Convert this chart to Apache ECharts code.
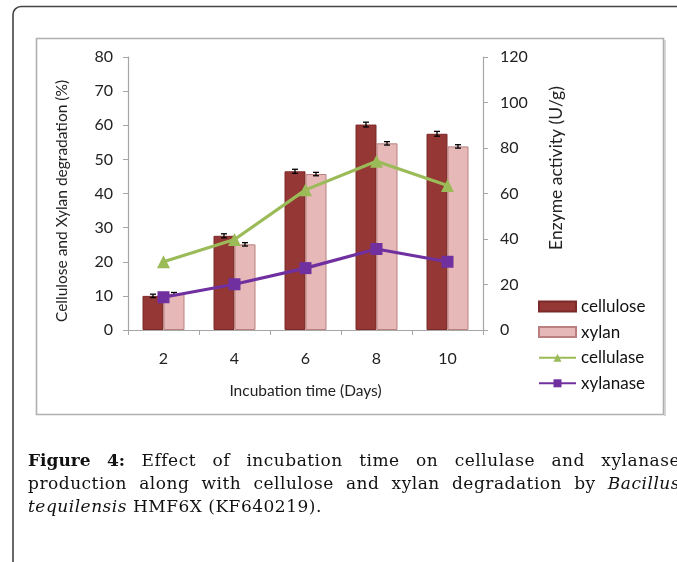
<!DOCTYPE html>
<html>
<head>
<meta charset="utf-8">
<script src="https://cdn.jsdelivr.net/npm/echarts@6/dist/echarts.min.js"></script>
<style>
  html, body { margin: 0; padding: 0; background: #fff; overflow: hidden; }
  #wrap { position: relative; width: 677px; height: 562px; overflow: hidden; }
  #chart { position: absolute; left: 0; top: 0; width: 677px; height: 562px; }
  .cap { position: absolute; left: 28px; width: 652px; font-family: "DejaVu Serif", serif;
         font-size: 17px; letter-spacing: 0.5px; color: #111; line-height: 23px; white-space: nowrap; }
  .just { text-align: justify; text-align-last: justify; white-space: normal; }
  .cap b { font-weight: bold; letter-spacing: 0; }
</style>
</head>
<body>
<div id="wrap">
  <div id="chart"></div>
  <div class="cap just" style="top:449px"><b>Figure 4:</b> Effect of incubation time on cellulase and xylanase</div>
  <div class="cap just" style="top:472px">production along with cellulose and xylan degradation by <i>Bacillus</i></div>
  <div class="cap" style="top:495px"><i>tequilensis</i> HMF6X (KF640219).</div>
</div>
<script>
  // 数据
  const days = ['2', '4', '6', '8', '10'];
  const celluloseDeg = [10.0, 27.6, 46.5, 60.2, 57.5];
  const celluloseErr = [0.5, 0.6, 0.6, 0.7, 0.7];
  const xylanDeg = [10.6, 25.1, 45.7, 54.7, 53.8];
  const xylanErr = [0.4, 0.5, 0.5, 0.5, 0.5];
  const cellulaseAct = [30.0, 39.8, 61.6, 74.2, 63.5];
  const xylanaseAct = [14.4, 20.1, 27.2, 35.6, 30.0];

  const BAR_W = 21;
  const font = 'Lato, "Open Sans", sans-serif';
  const axisColor = '#a6a6a6';

  function errorSeries(name, vals, errs, offset) {
    return {
      name: name,
      type: 'custom',
      z: 5,
      silent: true,
      data: vals.map((v, i) => [i, v, errs[i]]),
      encode: { x: 0, y: 1 },
      renderItem: (params, api) => {
        const i = api.value(0), v = api.value(1), e = api.value(2);
        const hi = api.coord([i, v + e]);
        const lo = api.coord([i, v - e]);
        const x = hi[0] + offset;
        const st = { stroke: '#000', lineWidth: 1.3 };
        return {
          type: 'group',
          children: [
            { type: 'line', shape: { x1: x, y1: hi[1], x2: x, y2: lo[1] }, style: st },
            { type: 'line', shape: { x1: x - 3, y1: hi[1], x2: x + 3, y2: hi[1] }, style: st },
            { type: 'line', shape: { x1: x - 3, y1: lo[1], x2: x + 3, y2: lo[1] }, style: st }
          ]
        };
      }
    };
  }

  const chart = echarts.init(document.getElementById('chart'), null, { renderer: 'canvas' });
  const option = {
    animation: false,
    backgroundColor: '#fff',
    textStyle: { fontFamily: font },
    grid: { left: 128, right: 194, top: 57, bottom: 232, outerBoundsMode: 'none' },
    graphic: [
      {
        type: 'rect', z: -1, silent: true,
        shape: { x: 13, y: 6.5, width: 720, height: 620, r: 8 },
        style: { fill: 'none', stroke: '#444', lineWidth: 1.6 }
      },
      {
        type: 'rect', z: -1, silent: true,
        shape: { x: 36.5, y: 38.5, width: 627, height: 376 },
        style: { fill: 'none', stroke: '#b0b0b0', lineWidth: 1.6 }
      },
      {
        type: 'line', z: -1, silent: true,
        shape: { x1: 665, y1: 40, x2: 665, y2: 416 },
        style: { stroke: '#c8c8c8', lineWidth: 1.5 }
      }
    ],
    legend: {
      orient: 'vertical',
      left: 538,
      top: 298,
      padding: 0,
      itemWidth: 37,
      itemHeight: 10,
      itemGap: 8.6,
      data: [
        { name: 'cellulose', icon: 'rect' },
        { name: 'xylan', icon: 'rect' },
        'cellulase',
        'xylanase'
      ],
      textStyle: { fontSize: 17, color: '#111', fontFamily: font }
    },
    xAxis: {
      type: 'category',
      data: days,
      axisLine: { lineStyle: { color: axisColor, width: 1.2 } },
      axisTick: { show: true, length: 5, lineStyle: { color: axisColor } },
      axisLabel: { fontSize: 16, color: '#222', margin: 21 },
      name: 'Incubation time (Days)',
      nameLocation: 'middle',
      nameGap: 53,
      nameTextStyle: { fontSize: 15.5, color: '#222' }
    },
    yAxis: [
      {
        type: 'value',
        min: 0, max: 80, interval: 10,
        splitLine: { show: false },
        axisLine: { show: true, lineStyle: { color: axisColor, width: 1.2 } },
        axisTick: { show: true, length: 5, lineStyle: { color: axisColor } },
        axisLabel: { fontSize: 16, color: '#222', margin: 15 },
        name: 'Cellulose and Xylan degradation (%)',
        nameLocation: 'middle',
        nameRotate: 90,
        nameGap: 58,
        nameTextStyle: { fontSize: 15.5, color: '#222', padding: [0, 15, 0, 0] }
      },
      {
        type: 'value',
        min: 0, max: 120, interval: 20,
        splitLine: { show: false },
        axisLine: { show: true, lineStyle: { color: axisColor, width: 1.2 } },
        axisTick: { show: true, length: 5, lineStyle: { color: axisColor } },
        axisLabel: { fontSize: 16, color: '#222', margin: 17 },
        name: 'Enzyme activity (U/g)',
        nameLocation: 'middle',
        nameRotate: 90,
        nameGap: 64,
        nameTextStyle: { fontSize: 17.5, color: '#222', padding: [0, 0, 0, 51] }
      }
    ],
    series: [
      {
        name: 'cellulose',
        type: 'bar',
        barWidth: BAR_W,
        barGap: '0%',
        data: celluloseDeg,
        itemStyle: { color: '#953735', borderColor: '#7b2a29', borderWidth: 1 }
      },
      {
        name: 'xylan',
        type: 'bar',
        barWidth: BAR_W,
        barGap: '0%',
        data: xylanDeg,
        itemStyle: { color: '#e6b9b8', borderColor: '#b9807f', borderWidth: 1 }
      },
      errorSeries('cellulose err', celluloseDeg, celluloseErr, -BAR_W / 2),
      errorSeries('xylan err', xylanDeg, xylanErr, BAR_W / 2),
      {
        name: 'cellulase',
        type: 'line',
        yAxisIndex: 1,
        z: 6,
        data: cellulaseAct,
        symbol: 'triangle',
        symbolSize: 13,
        lineStyle: { color: '#9bbb59', width: 3.2 },
        itemStyle: { color: '#9bbb59' }
      },
      {
        name: 'xylanase',
        type: 'line',
        yAxisIndex: 1,
        z: 7,
        data: xylanaseAct,
        symbol: 'rect',
        symbolSize: 12,
        lineStyle: { color: '#7030a0', width: 3.2 },
        itemStyle: { color: '#7030a0' }
      }
    ]
  };
  chart.setOption(option);
</script>
</body>
</html>
